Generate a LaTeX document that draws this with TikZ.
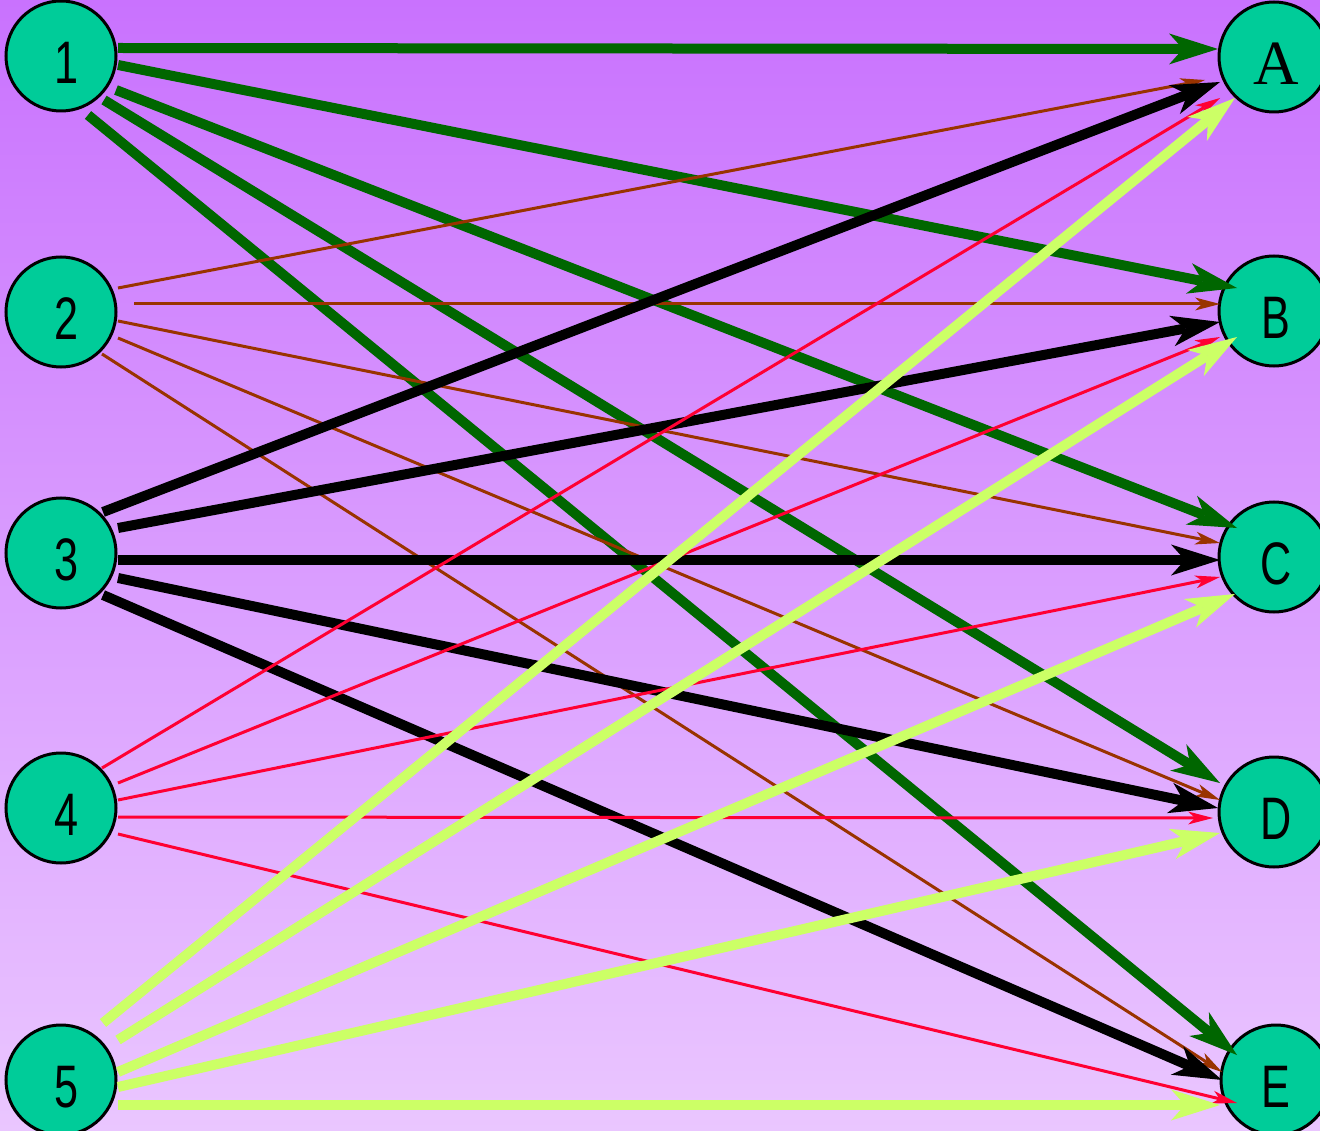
\documentclass[tikz,border=0pt]{standalone}
\usepackage{fontspec}
\usepackage{graphicx}
\newfontfamily\lblfont{Liberation Sans}
\newfontfamily\serfont{Liberation Serif}
\usetikzlibrary{arrows.meta,calc}
\definecolor{vfill}{RGB}{0,204,153}
\definecolor{egreen}{RGB}{0,102,0}
\definecolor{ebrown}{RGB}{153,51,0}
\definecolor{ered}{RGB}{255,0,51}
\definecolor{elime}{RGB}{204,255,102}
\definecolor{bgtop}{RGB}{201,114,254}
\definecolor{bgbot}{RGB}{234,198,255}
\begin{document}
\begin{tikzpicture}[x=1pt,y=-1pt,
  vtx/.style={circle,draw=black,line width=3pt,fill=vfill,minimum size=110pt,inner sep=0pt},
  lbl/.style={inner sep=0pt,font=\lblfont\fontsize{60}{60}\selectfont},
  serlbl/.style={inner sep=0pt,font=\serfont\fontsize{63}{63}\selectfont},
  thickedge/.style={line width=10pt,-{Stealth[length=49pt,width=31pt,inset=14pt,line width=0pt]}},
  thinedge/.style={line width=3pt,-{Stealth[length=25pt,width=13pt,inset=7pt,line width=0pt]}},
  e1/.style={thickedge,draw=egreen,fill=egreen},
  e2/.style={thinedge,draw=ebrown,fill=ebrown},
  e3/.style={thickedge,draw=black,fill=black},
  e4/.style={thinedge,draw=ered,fill=ered},
  e5/.style={thickedge,draw=elime,fill=elime},
]
\useasboundingbox (0,0) rectangle (1320,1131);
\clip (0,0) rectangle (1320,1131);
\shade[top color=bgtop,bottom color=bgbot] (0,0) rectangle (1320,1131);

% left nodes
\node[vtx] (n1) at (61,56) {};
\node[vtx] (n2) at (61,312) {};
\node[vtx] (n3) at (61,553) {};
\node[vtx] (n4) at (61,808) {};
\node[vtx] (n5) at (61,1080) {};
% right nodes
\node[vtx] (nA) at (1274,57) {};
\node[vtx] (nB) at (1274,311) {};
\node[vtx] (nC) at (1274,557) {};
\node[vtx] (nD) at (1274,812) {};
\node[vtx] (nE) at (1276,1080) {};

% labels
\node[lbl] (t1) at ($(n1)+(6,7)$) {\scalebox{0.72}[1]{1}};
\node[lbl] (t2) at ($(n2)+(6,7)$) {\scalebox{0.72}[1]{2}};
\node[lbl] (t3) at ($(n3)+(6,7)$) {\scalebox{0.72}[1]{3}};
\node[lbl] (t4) at ($(n4)+(6,7)$) {\scalebox{0.72}[1]{4}};
\node[lbl] (t5) at ($(n5)+(6,7)$) {\scalebox{0.72}[1]{5}};
\node[serlbl] (tA) at ($(nA)+(2,7)$) {A};
\node[lbl] (tB) at ($(nB)+(2,7)$) {\scalebox{0.72}[1]{B}};
\node[lbl] (tC) at ($(nC)+(2,7)$) {\scalebox{0.72}[1]{C}};
\node[lbl] (tD) at ($(nD)+(2,7)$) {\scalebox{0.72}[1]{D}};
\node[lbl] (tE) at ($(nE)+(0,7)$) {\scalebox{0.72}[1]{E}};

% edges from 1
\draw[e1] ($(n1)+(57,-8)$) -- ($(nA)+(-56,-8)$);
\draw[e1] ($(n1)+(57,9)$) -- ($(nB)+(-37,-23)$);
\draw[e1] ($(n1)+(55,34)$) -- ($(nC)+(-37,-29)$);
\draw[e1] ($(n1)+(43,44)$) -- ($(nD)+(-54,-29)$);
\draw[e1] ($(n1)+(27,59)$) -- ($(nE)+(-39,-25)$);
% edges from 2
\draw[e2] ($(n2)+(57,-24)$) -- ($(nA)+(-69,23)$);
\draw[e2] ($(n2)+(73,-8)$) -- ($(nB)+(-54,-7)$);
\draw[e2] ($(n2)+(57,9)$) -- ($(nC)+(-54,-14)$);
\draw[e2] ($(n2)+(57,26)$) -- ($(nD)+(-54,-12)$);
\draw[e2] ($(n2)+(41,42)$) -- ($(nE)+(-54,-8)$);
% edges from 3
\draw[e3] ($(n3)+(42,-41)$) -- ($(nA)+(-54,25)$);
\draw[e3] ($(n3)+(57,-25)$) -- ($(nB)+(-54,11)$);
\draw[e3] ($(n3)+(57,7)$) -- ($(nC)+(-54,3)$);
\draw[e3] ($(n3)+(57,25)$) -- ($(nD)+(-56,-4)$);
\draw[e3] ($(n3)+(42,42)$) -- ($(nE)+(-54,0)$);
% edges from 4
\draw[e4] ($(n4)+(41,-40)$) -- ($(nA)+(-54,41)$);
\draw[e4] ($(n4)+(57,-25)$) -- ($(nB)+(-54,26)$);
\draw[e4] ($(n4)+(57,-8)$) -- ($(nC)+(-54,20)$);
\draw[e4] ($(n4)+(57,9)$) -- ($(nD)+(-61,6)$);
\draw[e4] ($(n4)+(57,26)$) -- ($(nE)+(-39,23)$);
% edges from 5
\draw[e5] ($(n5)+(42,-57)$) -- ($(nA)+(-39,41)$);
\draw[e5] ($(n5)+(57,-40)$) -- ($(nB)+(-37,26)$);
\draw[e5] ($(n5)+(57,-8)$) -- ($(nC)+(-39,37)$);
\draw[e5] ($(n5)+(57,7)$) -- ($(nD)+(-54,21)$);
\draw[e5] ($(n5)+(57,25)$) -- ($(nE)+(-56,25)$);
\end{tikzpicture}
\end{document}
